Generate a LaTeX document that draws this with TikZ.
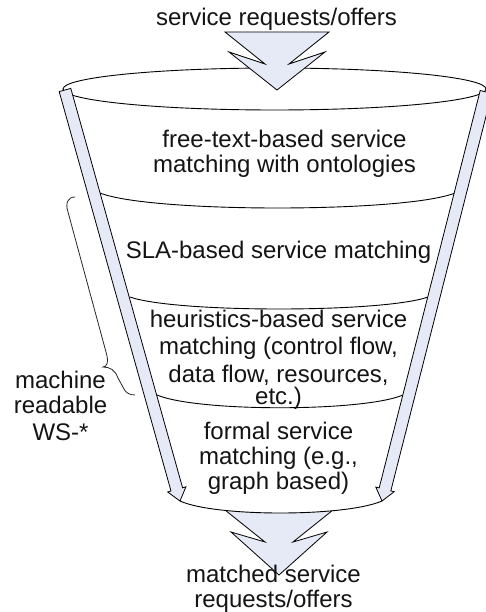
\documentclass[tikz,border=0pt]{standalone}
\usepackage{fontspec}
\setmainfont{Liberation Sans}
\definecolor{arrowfill}{RGB}{230,234,247}
\tikzset{
  lbl/.style={anchor=base, inner sep=0pt, font=\fontsize{24}{28}\selectfont, text=black!92},
  arrowshape/.style={fill=arrowfill, draw=black, line width=0.8pt, line join=miter},
  funnelline/.style={draw=black, line width=0.9pt},
}
\begin{document}
\begin{tikzpicture}[x=1pt,y=-1pt]
\useasboundingbox (0,0) rectangle (486,612);
% outgoing arrow (behind the funnel)
\draw[arrowshape] (225,510) -- (333,510) -- (293,542) -- (327,532) -- (279,575) -- (231,532) -- (265,542) -- cycle;
% funnel body
\fill[white] (65,90) -- (180,501) .. controls (215,517) and (345,517) .. (382,501) -- (486,92) -- cycle;
% top ellipse
\draw[funnelline, fill=white] (274.5,89) ellipse [x radius=211.5, y radius=21];
% layer dividers
\draw[funnelline] (100,193) .. controls (150,213) and (405,213) .. (455,193);
\draw[funnelline] (130,297) .. controls (175,313) and (383,313) .. (428,297);
\draw[funnelline] (157,395) .. controls (197,412) and (363,412) .. (403,395);
% bottom arc
\draw[funnelline] (180,501) .. controls (215,517) and (345,517) .. (382,501);
% incoming arrow
\draw[arrowshape] (225,32) -- (329,32) -- (289,64) -- (325,52) -- (277,90) -- (229,52) -- (265,64) -- cycle;
% left side arrow
\draw[arrowshape] (70.8,88.4) -- (182.6,487.8) -- (185.9,486.8) -- (180,501) -- (167.7,492.0) -- (171.0,491.0) -- (59.2,91.6) -- cycle;
% right side arrow
\draw[arrowshape] (480.2,90.5) -- (379.2,487.9) -- (375.8,487.1) -- (382,501) -- (394.2,491.7) -- (390.8,490.9) -- (491.8,93.5) -- cycle;
% brace
\draw[line width=0.8pt, black!85] (75,197) .. controls (68,197) and (65,203) .. (68,212) -- (106,352)
  .. controls (109,362) and (107,367) .. (103,367)
  .. controls (110,367) and (115,370) .. (118,378) -- (124,389)
  .. controls (126,393) and (130,395) .. (135,395);
% texts
\node[lbl] (in) at (276.5,26) {service requests/offers};
\node[lbl] (a1) at (284.5,148) {free-text-based service};
\node[lbl] (a2) at (284.5,173) {matching with ontologies};
\node[lbl] (b1) at (278.5,258) {SLA-based service matching};
\node[lbl] (c1) at (278.5,327) {heuristics-based service};
\node[lbl] (c2) at (278.5,354) {matching (control flow,};
\node[lbl] (c3) at (278.5,382) {data flow, resources,};
\node[lbl] (c4) at (278.5,404) {etc.)};
\node[lbl] (d1) at (278.5,439) {formal service};
\node[lbl] (d2) at (278.5,464) {matching (e.g.,};
\node[lbl] (d3) at (278.5,489) {graph based)};
\node[lbl] (m1) at (60.5,388) {machine};
\node[lbl] (m2) at (60.5,413) {readable};
\node[lbl] (m3) at (60.5,440) {WS-*};
\node[lbl] (o1) at (273.5,582) {matched service};
\node[lbl] (o2) at (273.5,607) {requests/offers};
\end{tikzpicture}
\end{document}
